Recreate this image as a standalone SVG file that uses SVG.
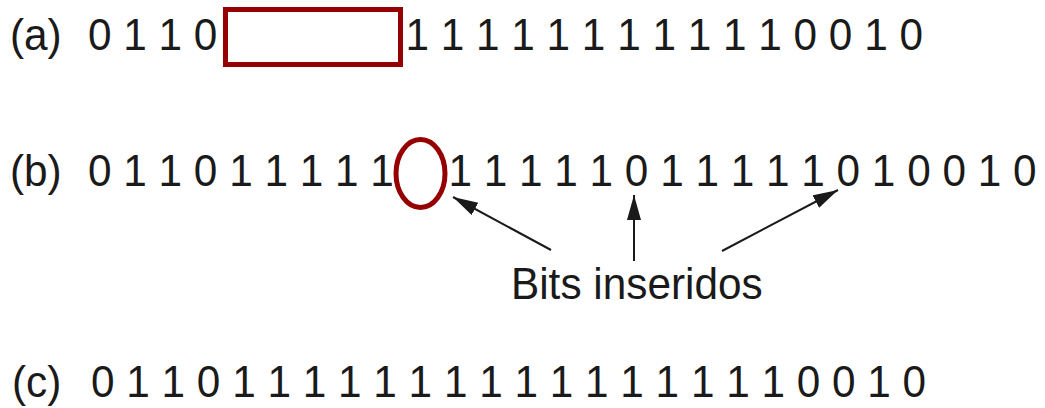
<svg xmlns="http://www.w3.org/2000/svg" width="1045" height="408" viewBox="0 0 1045 408">
  <style>
    .bits { font-family: "Liberation Sans", Arial, Helvetica, sans-serif; font-size: 44px; fill: #1a1a1a; }
    .mark { fill: none; stroke: #960000; stroke-width: 5; }
    .arrow { fill: none; stroke: #1a1a1a; stroke-width: 2; marker-end: url(#head); }
  </style>
  <defs>
    <marker id="head" markerUnits="userSpaceOnUse" markerWidth="26" markerHeight="16" refX="25" refY="7" orient="auto">
      <path d="M0,0 L25,7 L0,14 Z" fill="#1a1a1a"/>
    </marker>
  </defs>
  <rect width="1045" height="408" fill="#ffffff"/>

  <!-- (a) original bit stream with the run of ones framed; glyphs slightly condensed -->
  <g id="row-a">
    <text class="bits" transform="matrix(0.962 0 0 1 10 50)">(a)</text>
    <text class="bits" transform="matrix(0.962 0 0 1 88 50)">0 1 1 0</text>
    <rect class="mark" x="225.5" y="9.5" width="175" height="55"/>
    <text class="bits" transform="matrix(0.962 0 0 1 405.4 50)">1 1 1 1 1 1 1 1 1 1 1 0 0 1 0</text>
  </g>

  <!-- (b) stuffed stream -->
  <g id="row-b">
    <text class="bits" transform="matrix(0.962 0 0 1 10 186)">(b)</text>
    <text class="bits" transform="matrix(0.962 0 0 1 88 186)">0 1 1 0 1 1 1 1 1</text>
    <ellipse class="mark" cx="420.5" cy="173.5" rx="24.5" ry="34"/>
    <text class="bits" transform="matrix(0.962 0 0 1 448.4 186)">1 1 1 1 1 0 1 1 1 1 1 0 1 0 0 1 0</text>
  </g>

  <!-- caption for the inserted bits -->
  <g id="label">
    <text class="bits" transform="matrix(0.962 0 0 1 511 299)">Bits inseridos</text>
  </g>

  <!-- pointers to the inserted bits -->
  <g id="connectors">
    <line class="arrow" x1="551" y1="250" x2="453" y2="197"/>
    <line class="arrow" x1="634" y1="261" x2="634" y2="195"/>
    <line class="arrow" x1="722" y1="251" x2="838" y2="190"/>
  </g>

  <!-- (c) destuffed stream -->
  <g id="row-c">
    <text class="bits" transform="matrix(0.962 0 0 1 12 397)">(c)</text>
    <text class="bits" transform="matrix(0.962 0 0 1 91 397)">0 1 1 0 1 1 1 1 1 1 1 1 1 1 1 1 1 1 1 1 0 0 1 0</text>
  </g>
</svg>
